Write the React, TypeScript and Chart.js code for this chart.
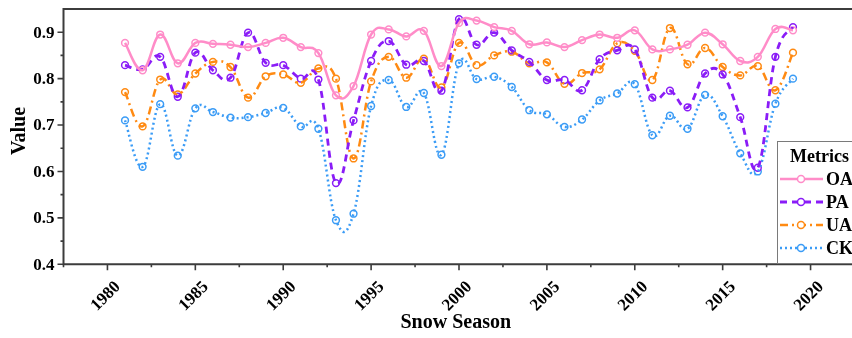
import React, { useEffect, useRef } from "react";
import { Chart, registerables } from "chart.js";

Chart.register(...registerables);

// Snow seasons 1981–2019
const seasons: number[] = Array.from({ length: 39 }, (_, i) => 1981 + i);

const oaValues: number[] = [
  0.877, 0.818, 0.895, 0.833, 0.877, 0.875, 0.873, 0.868, 0.877, 0.888,
  0.868, 0.855, 0.764, 0.784, 0.895, 0.906, 0.891, 0.903, 0.827, 0.92,
  0.925, 0.911, 0.903, 0.874, 0.878, 0.868, 0.883, 0.895, 0.888, 0.904,
  0.863, 0.863, 0.873, 0.899, 0.874, 0.838, 0.847, 0.907, 0.904,
];
const paValues: number[] = [
  0.829, 0.82, 0.847, 0.761, 0.856, 0.818, 0.802, 0.899, 0.834, 0.829,
  0.8, 0.798, 0.575, 0.71, 0.838, 0.881, 0.83, 0.838, 0.774, 0.928,
  0.873, 0.899, 0.861, 0.836, 0.797, 0.797, 0.775, 0.842, 0.861, 0.863,
  0.759, 0.774, 0.738, 0.811, 0.809, 0.717, 0.608, 0.847, 0.911,
];
const uaValues: number[] = [
  0.771, 0.697, 0.798, 0.766, 0.811, 0.836, 0.825, 0.759, 0.805, 0.809,
  0.791, 0.822, 0.8, 0.628, 0.794, 0.847, 0.802, 0.843, 0.781, 0.877,
  0.829, 0.85, 0.858, 0.833, 0.835, 0.789, 0.812, 0.82, 0.876, 0.86,
  0.797, 0.909, 0.831, 0.866, 0.825, 0.807, 0.827, 0.775, 0.856,
];
const ckValues: number[] = [
  0.71, 0.61, 0.745, 0.634, 0.736, 0.728, 0.716, 0.717, 0.726, 0.737,
  0.697, 0.692, 0.495, 0.509, 0.741, 0.797, 0.739, 0.769, 0.636, 0.833,
  0.799, 0.804, 0.782, 0.732, 0.723, 0.696, 0.712, 0.753, 0.768, 0.788,
  0.678, 0.72, 0.692, 0.765, 0.719, 0.639, 0.6, 0.746, 0.8,
];

const metricNames: string[] = ["OA", "PA", "UA", "CK"];
const xMajorTicks: number[] = [1980, 1985, 1990, 1995, 2000, 2005, 2010, 2015, 2020];
const xMinorTicks: number[] = [1977.5, 1982.5, 1987.5, 1992.5, 1997.5, 2002.5, 2007.5, 2012.5, 2017.5];
const yMajorTicks: number[] = [0.4, 0.5, 0.6, 0.7, 0.8, 0.9];
const yMinorTicks: number[] = [0.45, 0.55, 0.65, 0.75, 0.85];

const SERIF = '"Liberation Serif", "Times New Roman", serif';
const AXIS_COLOR = "#3c3c3c";

type Style = { color: string; dash: number[]; width: number };
const styles: Style[] = [
  { color: "#ff8cc8", dash: [], width: 2.5 },
  { color: "#8a1cf7", dash: [7, 5], width: 2.8 },
  { color: "#ff8a12", dash: [8, 4, 2, 4], width: 2.5 },
  { color: "#3b9cf6", dash: [2, 3], width: 2.5 },
];

const seriesValues: number[][] = [oaValues, paValues, uaValues, ckValues];

// Spline through the points with tangents taken along x (like a cubic spline),
// set on the library's own point elements before the curves are stroked.
const SPLINE_GAIN = 1.2;
const splinePlugin = {
  id: "xSpline",
  beforeDatasetsDraw(chart: any) {
    chart.data.datasets.forEach((ds: any, di: number) => {
      if (!ds.isCurve) return;
      const meta = chart.getDatasetMeta(di);
      const line = meta.dataset;
      if (!line) return;
      line.updateControlPoints(chart.chartArea, "x");
      const pts = meta.data;
      const n = pts.length;
      for (let i = 0; i < n; i++) {
        const p = pts[i];
        const prev = pts[Math.max(0, i - 1)];
        const next = pts[Math.min(n - 1, i + 1)];
        const span = i === 0 || i === n - 1 ? 1 : 2;
        const tx = ((next.x - prev.x) / span) * (SPLINE_GAIN / 3);
        const ty = ((next.y - prev.y) / span) * (SPLINE_GAIN / 3);
        const k = i === 0 || i === n - 1 ? 0.5 : 1;
        p.cp1x = p.x - tx * k;
        p.cp1y = p.y - ty * k;
        p.cp2x = p.x + tx * k;
        p.cp2y = p.y + ty * k;
      }
      line._path = undefined;
    });
  },
};

const axesPlugin = {
  id: "paperAxes",
  afterDatasetsDraw(chart: any) {
    const { ctx, chartArea } = chart;
    const xs = chart.scales.x;
    const ys = chart.scales.y;
    const left = chartArea.left;
    const bottom = chartArea.bottom;
    const top = chartArea.top;
    ctx.save();
    ctx.strokeStyle = AXIS_COLOR;
    ctx.lineWidth = 2;
    ctx.setLineDash([]);
    ctx.beginPath();
    ctx.moveTo(left, top);
    ctx.lineTo(chartArea.right + 2, top);
    ctx.moveTo(left, top - 1);
    ctx.lineTo(left, bottom + 1);
    ctx.moveTo(left - 1, bottom);
    ctx.lineTo(chartArea.right + 2, bottom);
    ctx.stroke();

    ctx.lineWidth = 1.6;
    ctx.beginPath();
    for (const v of yMajorTicks) {
      const y = ys.getPixelForValue(v);
      ctx.moveTo(left, y);
      ctx.lineTo(left - 6, y);
    }
    for (const v of yMinorTicks) {
      const y = ys.getPixelForValue(v);
      ctx.moveTo(left, y);
      ctx.lineTo(left - 3, y);
    }
    for (const v of xMajorTicks) {
      const x = xs.getPixelForValue(v);
      ctx.moveTo(x, bottom);
      ctx.lineTo(x, bottom + 6);
    }
    for (const v of xMinorTicks) {
      const x = xs.getPixelForValue(v);
      ctx.moveTo(x, bottom);
      ctx.lineTo(x, bottom + 3);
    }
    ctx.stroke();

    ctx.fillStyle = "#000";
    ctx.font = `bold 17px ${SERIF}`;
    ctx.textAlign = "right";
    ctx.textBaseline = "middle";
    for (const v of yMajorTicks) {
      ctx.fillText(v.toFixed(1), left - 9, ys.getPixelForValue(v) + 1);
    }
    ctx.textAlign = "center";
    for (const v of xMajorTicks) {
      const x = xs.getPixelForValue(v);
      ctx.save();
      ctx.translate(x - 1.5, bottom + 32);
      ctx.rotate(-Math.PI / 4);
      ctx.fillText(String(v), 0, 0);
      ctx.restore();
    }

    ctx.font = `bold 20px ${SERIF}`;
    ctx.fillText("Snow Season", (left + 852) / 2 - 2, 323);
    ctx.save();
    ctx.translate(20, 131);
    ctx.rotate(-Math.PI / 2);
    ctx.fillText("Value", 0, 0);
    ctx.restore();
    ctx.restore();
  },
};

const legendPlugin = {
  id: "boxedLegend",
  afterDraw(chart: any) {
    const { ctx } = chart;
    const boxLeft = 777.5;
    const boxTop = 141.5;
    ctx.save();
    ctx.fillStyle = "#fff";
    ctx.fillRect(boxLeft, boxTop, 100, 122);
    ctx.strokeStyle = "#7a7a7a";
    ctx.lineWidth = 1;
    ctx.strokeRect(boxLeft, boxTop, 100, 122);
    ctx.fillStyle = "#000";
    ctx.font = `bold 18px ${SERIF}`;
    ctx.textAlign = "left";
    ctx.textBaseline = "middle";
    ctx.fillText("Metrics", 790, 157);
    const rows = [179, 202, 225, 248];
    metricNames.forEach((name, i) => {
      const st = styles[i];
      const y = rows[i];
      ctx.strokeStyle = st.color;
      ctx.lineWidth = st.width;
      ctx.setLineDash(st.dash);
      ctx.beginPath();
      ctx.moveTo(780, y);
      ctx.lineTo(823, y);
      ctx.stroke();
      ctx.setLineDash([]);
      ctx.lineWidth = 1.5;
      ctx.fillStyle = "#fff";
      ctx.beginPath();
      ctx.arc(801, y, 3.5, 0, Math.PI * 2);
      ctx.fill();
      ctx.stroke();
      ctx.fillStyle = "#000";
      ctx.font = `bold 18px ${SERIF}`;
      ctx.fillText(name, 826, y + 1);
    });
    ctx.restore();
  },
};

export default function App() {
  const canvasRef = useRef<HTMLCanvasElement | null>(null);

  useEffect(() => {
    if (!canvasRef.current) return;
    const points = (vals: number[]) => seasons.map((s, i) => ({ x: s, y: vals[i] }));

    // markers first, curves drawn over them
    const markerSets = seriesValues.map((vals, i) => ({
      label: metricNames[i] + " markers",
      data: points(vals),
      showLine: false,
      pointRadius: 3.4,
      pointBorderWidth: 1.5,
      pointBorderColor: styles[i].color,
      pointBackgroundColor: "#ffffff",
      borderColor: styles[i].color,
      order: 2,
    }));
    const curveSets = seriesValues.map((vals, i) => ({
      label: metricNames[i],
      data: points(vals),
      isCurve: true,
      borderColor: styles[i].color,
      borderWidth: styles[i].width,
      borderDash: styles[i].dash,
      tension: 0.4,
      pointRadius: 0,
      fill: false,
      order: 1,
    }));

    const chart = new Chart(canvasRef.current, {
      type: "line",
      data: { datasets: [...markerSets, ...curveSets] as any },
      options: {
        animation: false,
        responsive: false,
        devicePixelRatio: 1,
        layout: { padding: { left: 63.5, top: 9, right: 1.5, bottom: 73.7 } },
        plugins: { legend: { display: false }, tooltip: { enabled: false } },
        scales: {
          x: { type: "linear", min: 1977.5, max: 2022.5, display: false },
          y: { type: "linear", min: 0.4, max: 0.95, display: false },
        },
      },
      plugins: [splinePlugin, axesPlugin, legendPlugin],
    });
    return () => chart.destroy();
  }, []);

  return (
    <div
      style={{
        position: "fixed",
        left: 0,
        top: 0,
        width: 852,
        height: 338,
        overflow: "hidden",
        background: "#fff",
      }}
    >
      <canvas ref={canvasRef} width={860} height={338} style={{ width: 860, height: 338 }} />
    </div>
  );
}
